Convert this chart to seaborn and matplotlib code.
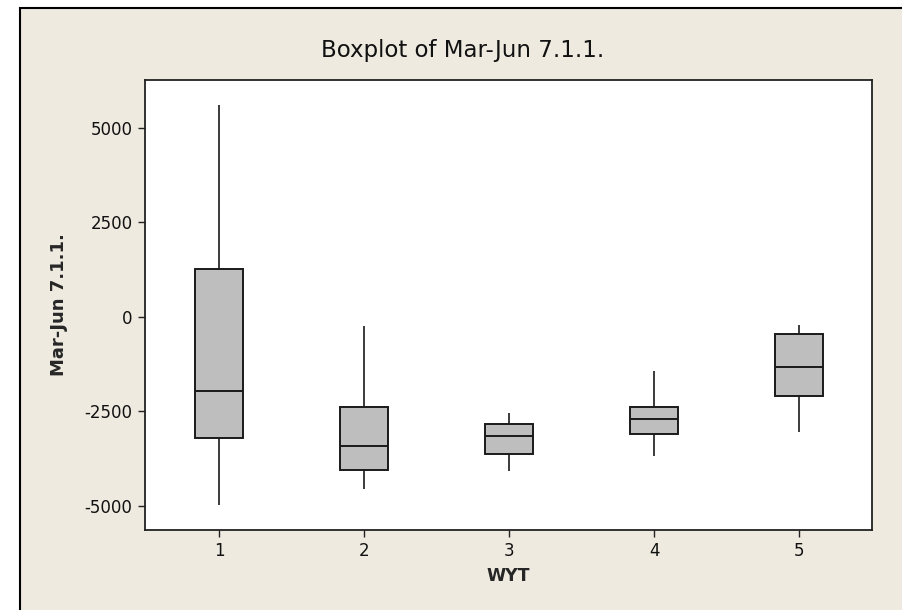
"""
Boxplot of Mar-Jun 7.1.1. by WYT (Minitab-style recreation)
"""

import pandas as pd
import matplotlib.pyplot as plt
import seaborn as sns
from matplotlib.patches import Rectangle


# =============================================================================
# DATA (five-number summaries)
# =============================================================================
wyt = ["1", "2", "3", "4", "5"]
mins = [-4980, -4560, -4070, -3680, -3050]
q1s = [-3210, -4040, -3620, -3090, -2080]
medians = [-1950, -3420, -3150, -2700, -1320]
q3s = [1270, -2370, -2830, -2370, -440]
maxs = [5600, -230, -2540, -1440, -220]

BEIGE = "#EEEAE0"
BOX_GREY = "#BEBEBE"


def build_frame():
    rows = []
    for i, g in enumerate(wyt):
        for v in (mins[i], q1s[i], medians[i], q3s[i], maxs[i]):
            rows.append({"WYT": g, "value": v})
    return pd.DataFrame(rows)


# =============================================================================
# PLOT
# =============================================================================
def main():
    df = build_frame()
    sns.set_style("ticks")
    plt.rcParams["font.family"] = ["DejaVu Sans"]

    fig = plt.figure(figsize=(9.02, 6.10), dpi=100, facecolor="white")
    # window-like beige panel with black left/top edge
    fig.patches.append(Rectangle((19.5 / 902, -0.05), 1.0, 1 - 7.5 / 610 + 0.05,
                                 transform=fig.transFigure, facecolor=BEIGE,
                                 edgecolor="black", linewidth=1.5, zorder=-10))

    ax = fig.add_axes([145 / 902, 1 - 530 / 610, 727 / 902, 450 / 610])
    ax.set_facecolor("white")

    sns.boxplot(data=df, x="WYT", y="value", order=wyt, ax=ax,
                whis=(0, 100), width=0.334, showcaps=False, fliersize=0,
                color=BOX_GREY, saturation=1,
                boxprops={"facecolor": BOX_GREY, "edgecolor": "#1a1a1a", "linewidth": 1.4},
                whiskerprops={"color": "#1a1a1a", "linewidth": 1.2},
                medianprops={"color": "#1a1a1a", "linewidth": 1.4})

    ax.set_xlim(-0.51, 4.503)
    ax.set_ylim(-5633, 6262)
    ax.set_yticks([-5000, -2500, 0, 2500, 5000])
    ax.set_yticklabels(["-5000", "-2500", "0", "2500", "5000"])

    for side in ax.spines.values():
        side.set_visible(True)
        side.set_color("#222222")
        side.set_linewidth(1.3)
    ax.tick_params(axis="both", direction="out", length=5, width=1,
                   color="#222222", labelsize=12, labelcolor="#111111", pad=4)

    ax.set_xlabel("WYT", fontsize=12.5, fontweight="bold", labelpad=5)
    ax.set_ylabel("Mar-Jun 7.1.1.", fontsize=13, fontweight="bold", labelpad=12)

    fig.text(463 / 902, 1 - 51 / 610, "Boxplot of Mar-Jun 7.1.1.",
             ha="center", va="center", fontsize=16.5, color="#111111")

    fig.savefig("out.png", dpi=100, facecolor=fig.get_facecolor())
    plt.close(fig)


if __name__ == "__main__":
    main()
